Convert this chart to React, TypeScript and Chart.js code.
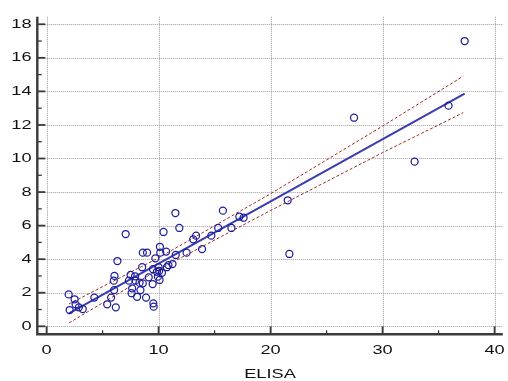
import React, { useEffect, useRef } from "react";
import { Chart, registerables } from "chart.js";

Chart.register(...registerables);

// ELISA (x) vs comparison method (y)
const elisaValues: number[] = [
  1.97, 2.5, 2.59, 2.06, 3.23, 2.88, 4.26, 5.41, 5.76, 6.03, 6.18, 6.06, 6.0, 6.32, 7.06, 7.5,
  7.35, 7.64, 7.59, 8.08, 7.94, 8.3, 8.38, 8.53, 8.59, 8.97, 8.88, 9.12, 9.47, 9.53, 9.56, 9.71,
  9.85, 10.0, 10.09, 10.15, 10.12, 10.44, 10.68, 10.74, 10.3, 10.88, 11.24, 11.53, 11.5, 11.85,
  12.5, 13.09, 13.35, 13.88, 14.71, 15.32, 15.74, 16.5, 17.21, 17.59, 21.53, 21.68, 27.45, 32.86,
  35.89, 37.33, 8.59, 7.9, 9.5, 9.94, 10.05,
];
const methodValues: number[] = [
  1.9, 1.61, 1.31, 0.97, 1.03, 1.13, 1.71, 1.31, 1.71, 2.16, 1.13, 3.0, 2.72, 3.89, 5.5, 3.06,
  2.72, 2.26, 1.97, 1.76, 2.72, 2.6, 2.16, 3.52, 4.39, 4.39, 1.71, 2.92, 2.52, 1.37, 1.17, 4.05,
  3.25, 3.52, 2.76, 4.39, 4.74, 5.62, 4.45, 3.52, 3.19, 3.65, 3.71, 4.25, 6.75, 5.86,
  4.39, 5.18, 5.4, 4.6, 5.4, 5.86, 6.89, 5.86, 6.53, 6.47, 7.51, 4.31, 12.43, 9.81,
  13.15, 17.0, 2.56, 2.98, 3.4, 2.96, 3.3,
];

// Regression line and confidence band
const fitX: number[] = [2, 37.33];
const fitY: number[] = [0.77, 13.86];
const bandX: number[] = [2, 10, 20, 30, 37.2];
const bandUpper: number[] = [1.33, 4.08, 7.9, 11.93, 14.9];
const bandLower: number[] = [0.2, 3.38, 6.9, 10.35, 12.73];

const xTicks: number[] = [0, 10, 20, 30, 40];
const xMinorTicks: number[] = [5, 15, 25, 35];
const yTicks: number[] = [0, 2, 4, 6, 8, 10, 12, 14, 16, 18];
const yMinorTicks: number[] = [1, 3, 5, 7, 9, 11, 13, 15, 17];
const xTitle = "ELISA";

const FONT = '13px "Liberation Sans", Arial, sans-serif';
const STRETCH = 1.4;

const axesPlugin = {
  id: "customAxes",
  beforeDatasetsDraw(chart: any) {
    const { ctx, chartArea, scales } = chart;
    const xs = scales.x;
    const ys = scales.y;
    ctx.save();
    ctx.strokeStyle = "#9c9c9c";
    ctx.lineWidth = 1;
    ctx.setLineDash([1, 1]);
    yTicks.forEach((v) => {
      const py = Math.round(ys.getPixelForValue(v)) + 0.5;
      ctx.beginPath();
      ctx.moveTo(chartArea.left, py);
      ctx.lineTo(chartArea.right, py);
      ctx.stroke();
    });
    xTicks.forEach((v) => {
      const px = Math.round(xs.getPixelForValue(v)) + 0.5;
      ctx.beginPath();
      ctx.moveTo(px, chartArea.top);
      ctx.lineTo(px, chartArea.bottom);
      ctx.stroke();
    });
    ctx.restore();
  },
  afterDraw(chart: any) {
    const { ctx, chartArea, scales } = chart;
    const xs = scales.x;
    const ys = scales.y;
    const L = chartArea.left;
    const B = chartArea.bottom;
    ctx.save();
    ctx.setLineDash([]);
    ctx.strokeStyle = "#3a3a3a";
    // axis lines
    ctx.lineWidth = 2.4;
    ctx.beginPath();
    ctx.moveTo(L, chartArea.top);
    ctx.lineTo(L, B);
    ctx.lineTo(chartArea.right, B);
    ctx.stroke();
    // ticks
    ctx.lineWidth = 1.8;
    yTicks.forEach((v) => {
      const py = ys.getPixelForValue(v);
      ctx.beginPath();
      ctx.moveTo(L, py);
      ctx.lineTo(L + 8, py);
      ctx.stroke();
    });
    xTicks.forEach((v) => {
      const px = xs.getPixelForValue(v);
      ctx.beginPath();
      ctx.moveTo(px, B);
      ctx.lineTo(px, B - 8);
      ctx.stroke();
    });
    ctx.lineWidth = 1.3;
    yMinorTicks.forEach((v) => {
      const py = ys.getPixelForValue(v);
      ctx.beginPath();
      ctx.moveTo(L, py);
      ctx.lineTo(L + 4.5, py);
      ctx.stroke();
    });
    xMinorTicks.forEach((v) => {
      const px = xs.getPixelForValue(v);
      ctx.beginPath();
      ctx.moveTo(px, B);
      ctx.lineTo(px, B - 4);
      ctx.stroke();
    });
    // labels
    ctx.fillStyle = "#111";
    ctx.font = FONT;
    const drawText = (t: string, x: number, y: number, align: CanvasTextAlign) => {
      ctx.save();
      ctx.translate(x, y);
      ctx.scale(STRETCH, 1);
      ctx.textAlign = align;
      ctx.textBaseline = "middle";
      ctx.fillText(t, 0, 0);
      ctx.restore();
    };
    yTicks.forEach((v) => drawText(String(v), 31.5, ys.getPixelForValue(v), "right"));
    xTicks.forEach((v) => drawText(String(v), xs.getPixelForValue(v), 350.5, "center"));
    drawText(xTitle, (chartArea.left + chartArea.right) / 2, 374.5, "center");
    ctx.restore();
  },
};

export default function App() {
  const canvasRef = useRef<HTMLCanvasElement | null>(null);

  useEffect(() => {
    if (!canvasRef.current) return;
    const points = elisaValues.map((x, i) => ({ x, y: methodValues[i] }));
    const fit = fitX.map((x, i) => ({ x, y: fitY[i] }));
    const upper = bandX.map((x, i) => ({ x, y: bandUpper[i] }));
    const lower = bandX.map((x, i) => ({ x, y: bandLower[i] }));

    const chart = new Chart(canvasRef.current, {
      type: "scatter",
      data: {
        datasets: [
          {
            data: points,
            pointStyle: "circle",
            pointRadius: 3.5,
            pointBorderWidth: 1.25,
            borderColor: "#1e1e9c",
            backgroundColor: "rgba(0,0,0,0)",
            pointBackgroundColor: "rgba(0,0,0,0)",
            pointBorderColor: "#1e1e9c",
            showLine: false,
          },
          {
            data: fit,
            showLine: true,
            borderColor: "#3b3bb0",
            borderWidth: 2,
            pointRadius: 0,
          },
          {
            data: upper,
            showLine: true,
            borderColor: "#a52a2a",
            borderWidth: 1,
            borderDash: [3, 2],
            pointRadius: 0,
          },
          {
            data: lower,
            showLine: true,
            borderColor: "#a52a2a",
            borderWidth: 1,
            borderDash: [3, 2],
            pointRadius: 0,
          },
        ],
      },
      options: {
        animation: false,
        responsive: false,
        maintainAspectRatio: false,
        devicePixelRatio: 1,
        layout: { padding: { left: 37.3, top: 16.7, right: 0, bottom: 46.7 } },
        plugins: { legend: { display: false }, tooltip: { enabled: false } },
        events: [],
        scales: {
          x: { type: "linear", display: false, min: -0.83, max: 40.73 },
          y: { type: "linear", display: false, min: -0.477, max: 18.45 },
        },
      },
      plugins: [axesPlugin],
    });
    return () => chart.destroy();
  }, []);

  return (
    <div style={{ position: "fixed", left: 0, top: 0, width: 508, height: 381, background: "#fff" }}>
      <canvas ref={canvasRef} width={508} height={381} style={{ width: 508, height: 381, display: "block" }} />
    </div>
  );
}
